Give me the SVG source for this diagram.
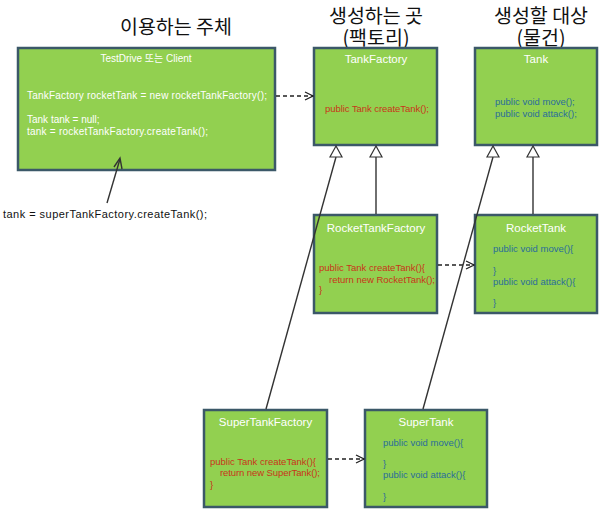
<svg xmlns="http://www.w3.org/2000/svg" width="600" height="511" viewBox="0 0 600 511">
<defs>
<style>
.box{fill:#92d050;stroke:#3b5868;stroke-width:2.5}
.title{font-family:"Noto Sans CJK KR","Noto Sans",sans-serif;font-size:19.5px;fill:#111;text-anchor:middle}
.name{font-family:"Liberation Sans","Noto Sans CJK KR",sans-serif;font-size:11.5px;fill:#ffffff;text-anchor:middle}
.wt{font-family:"Liberation Sans","Noto Sans CJK KR",sans-serif;font-size:10px;fill:#ffffff}
.red{font-family:"Liberation Sans",sans-serif;font-size:9.5px;fill:#c8361a}
.blue{font-family:"Liberation Sans",sans-serif;font-size:9.5px;fill:#2a6e9a}
.plain{font-family:"Liberation Sans",sans-serif;font-size:11px;fill:#111}
.line{stroke:#333;stroke-width:1.4;fill:none}
.dash{stroke:#222;stroke-width:1.3;fill:none;stroke-dasharray:4,3}
.tri{fill:#fff;stroke:#333;stroke-width:1.2}
</style>
<marker id="open" markerWidth="10" markerHeight="10" refX="9" refY="5" orient="auto" markerUnits="userSpaceOnUse">
<path d="M1,1 L9,5 L1,9" fill="none" stroke="#222" stroke-width="1.3"/>
</marker>
</defs>
<rect width="600" height="511" fill="#ffffff"/>
<g id="titles">
<text class="title" x="176" y="34">이용하는 주체</text>
<text class="title"><tspan x="376" y="23">생성하는 곳</tspan><tspan x="376" y="45">(팩토리)</tspan></text>
<text class="title"><tspan x="541" y="23">생성할 대상</tspan><tspan x="541" y="45">(물건)</tspan></text>
</g>
<g id="client">
<rect class="box" x="18" y="48" width="257" height="122"/>
<text class="wt" x="146" y="62" text-anchor="middle">TestDrive 또는 Client</text>
<text class="wt" x="27" y="99" textLength="240">TankFactory rocketTank = new rocketTankFactory();</text>
<text class="wt" x="27" y="123">Tank tank = null;</text>
<text class="wt" x="27" y="135" textLength="181">tank = rocketTankFactory.createTank();</text>
</g>
<text class="plain" x="3" y="218" textLength="204">tank = superTankFactory.createTank();</text>
<g id="tankfactory">
<rect class="box" x="314" y="48" width="123" height="97"/>
<text class="name" x="376" y="63">TankFactory</text>
<text class="red" x="325" y="112" textLength="104">public Tank createTank();</text>
</g>
<g id="tank">
<rect class="box" x="475" y="48" width="122" height="97"/>
<text class="name" x="536" y="63">Tank</text>
<text class="blue" x="495" y="105">public void move();</text>
<text class="blue" x="495" y="117">public void attack();</text>
</g>
<g id="rockettankfactory">
<rect class="box" x="314" y="215" width="123" height="98"/>
<text class="name" x="376" y="232">RocketTankFactory</text>
<text class="red" x="319" y="271">public Tank createTank(){</text>
<text class="red" x="329" y="283" textLength="106">return new RocketTank();</text>
<text class="red" x="319" y="293">}</text>
</g>
<g id="rockettank">
<rect class="box" x="475" y="215" width="122" height="98"/>
<text class="name" x="536" y="232">RocketTank</text>
<text class="blue" x="493" y="252">public void move(){</text>
<text class="blue" x="493" y="274">}</text>
<text class="blue" x="493" y="285">public void attack(){</text>
<text class="blue" x="493" y="306">}</text>
</g>
<g id="supertankfactory">
<rect class="box" x="204" y="410" width="123" height="97"/>
<text class="name" x="265.5" y="426">SuperTankFactory</text>
<text class="red" x="210" y="465">public Tank createTank(){</text>
<text class="red" x="220" y="476" textLength="100">return new SuperTank();</text>
<text class="red" x="210" y="488">}</text>
</g>
<g id="supertank">
<rect class="box" x="365" y="410" width="122" height="97"/>
<text class="name" x="426" y="426">SuperTank</text>
<text class="blue" x="383" y="446">public void move(){</text>
<text class="blue" x="383" y="467">}</text>
<text class="blue" x="383" y="478">public void attack(){</text>
<text class="blue" x="383" y="500">}</text>
</g>
<g id="connectors">
<line class="dash" x1="276" y1="96" x2="313" y2="96" marker-end="url(#open)"/>
<line class="dash" x1="438" y1="265" x2="474" y2="265" marker-end="url(#open)"/>
<line class="dash" x1="328" y1="459" x2="364" y2="459" marker-end="url(#open)"/>
<line class="line" x1="336" y1="157" x2="266" y2="409"/>
<line class="line" x1="376" y1="157" x2="376" y2="214"/>
<line class="line" x1="493" y1="157" x2="423" y2="409"/>
<line class="line" x1="533" y1="157" x2="533" y2="214"/>
<polygon class="tri" points="336,146 330,157 342,157"/>
<polygon class="tri" points="376,146 370,157 382,157"/>
<polygon class="tri" points="493,146 487,157 499,157"/>
<polygon class="tri" points="533,146 527,157 539,157"/>
<line class="line" x1="107" y1="203" x2="120" y2="159"/>
<path d="M114,167 L120,158 L122,169" fill="none" stroke="#333" stroke-width="1.4"/>
</g>
</svg>
